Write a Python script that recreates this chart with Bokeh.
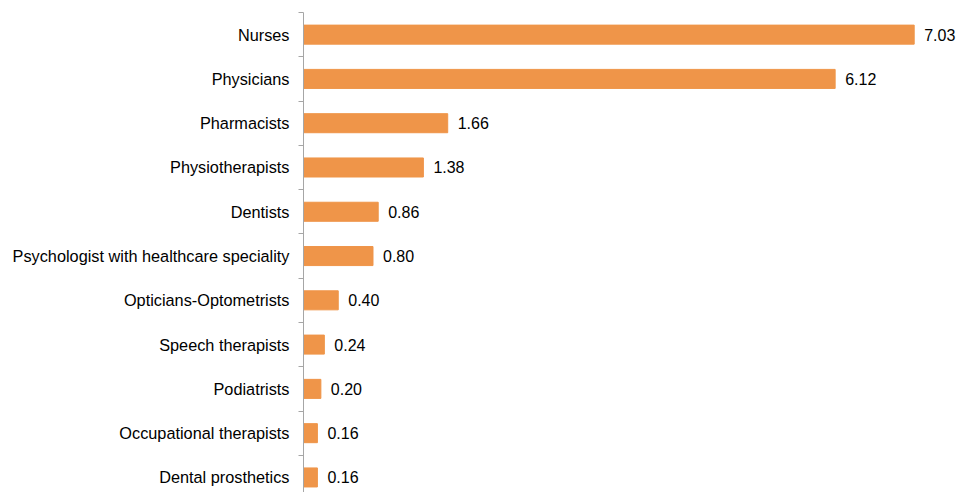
from bokeh.plotting import figure
from bokeh.models import ColumnDataSource, Range1d, FixedTicker
from bokeh.embed import file_html
from bokeh.resources import INLINE
from bokeh.core.properties import value

categories = ["Nurses", "Physicians", "Pharmacists", "Physiotherapists", "Dentists",
              "Psychologist with healthcare speciality", "Opticians-Optometrists",
              "Speech therapists", "Podiatrists", "Occupational therapists", "Dental prosthetics"]
values = [7.03, 6.12, 1.66, 1.38, 0.86, 0.80, 0.40, 0.24, 0.20, 0.16, 0.16]
labels = ["7.03", "6.12", "1.66", "1.38", "0.86", "0.80", "0.40", "0.24", "0.20", "0.16", "0.16"]

n = len(categories)
ypos = [n - 1 - i for i in range(n)]
src = ColumnDataSource(dict(y=ypos, v=values, lab=labels, cat=categories))

p = figure(width=958, height=492, output_backend="svg", toolbar_location=None,
           x_range=Range1d(0, 7.54), y_range=Range1d(-0.34, n - 0.5),
           x_axis_location=None, min_border_left=303, min_border_right=0,
           min_border_top=12, min_border_bottom=0)
p.outline_line_color = None
p.grid.visible = False

p.hbar(y="y", right="v", left=0, height=0.43, source=src, color="#EF9549")
p.text(x="v", y="y", text="lab", source=src, x_offset=10, text_baseline="middle",
       text_font=value("Liberation Sans"), text_font_size="16px", text_color="#000000")

ax = p.yaxis[0]
ax.ticker = FixedTicker(ticks=ypos, minor_ticks=[i - 0.5 for i in range(n + 1)])
ax.major_label_overrides = {y: c for y, c in zip(ypos, categories)}
ax.major_tick_line_color = None
ax.minor_tick_out = 5
ax.minor_tick_in = 0
ax.minor_tick_line_color = "#A6A6A6"
ax.axis_line_color = "#A6A6A6"
ax.major_label_standoff = 8
ax.major_label_text_font = "Liberation Sans"
ax.major_label_text_font_size = "16.3px"
ax.major_label_text_color = "#000000"

open("out.html", "w").write(file_html(p, INLINE))
